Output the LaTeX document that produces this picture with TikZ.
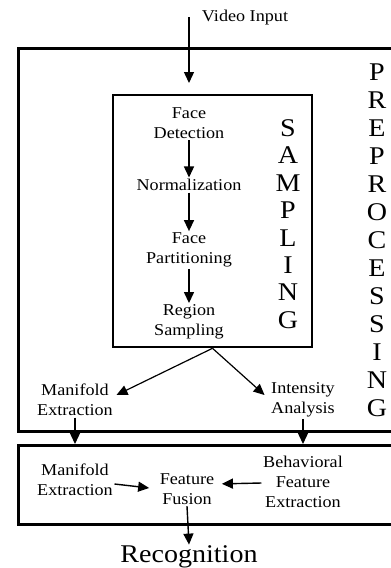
\documentclass[tikz,border=0pt]{standalone}
\usepackage{fontspec}
\setmainfont{Liberation Serif}[FakeStretch=1.1]
\usetikzlibrary{arrows.meta}
\begin{document}
\begin{tikzpicture}[x=1pt,y=-1pt,
  lbl/.style={font=\fontsize{16.5}{20}\selectfont, align=center, inner sep=1.5pt},
  big/.style={font=\fontsize{25.5}{28}\selectfont, align=center, inner sep=0pt},
  arr/.style={line width=1.4pt, -{Triangle[length=11pt,width=10pt]}},
  frame/.style={draw, line width=2.6pt, inner sep=0pt}]
\useasboundingbox (0,0) rectangle (391,568);
\begin{scope}
  \clip (0,0) rectangle (391,568);
  \node[frame, minimum width=400pt, minimum height=383pt, anchor=north west] (prebox) at (17,47) {};
  \node[frame, minimum width=400pt, minimum height=79pt, anchor=north west] (lowbox) at (17,444) {};
\end{scope}
\node[frame, minimum width=199pt, minimum height=252pt] (sampbox) at (212.5,221) {};

% vertical labels
\node[big, font=\fontsize{25.5}{28}\selectfont] (prep) at (377,240)
  {P\\R\\E\\P\\R\\O\\C\\E\\S\\S\\I\\N\\G};
\node[big, font=\fontsize{25.5}{27.4}\selectfont] (samp) at (288,224)
  {S\\A\\M\\P\\L\\I\\N\\G};

% text nodes
\node[lbl] (vi) at (245,18) {Video Input};
\node[lbl] (fd) at (189,123) {Face\\Detection};
\node[lbl] (norm) at (189,185) {Normalization};
\node[lbl] (fp) at (189,250) {Face\\Partitioning};
\node[lbl] (rs) at (189,322) {Region\\Sampling};
\node[lbl] (me1) at (75,400) {Manifold\\Extraction};
\node[lbl] (ia) at (303,400) {Intensity\\Analysis};
\node[lbl] (me2) at (75,480) {Manifold\\Extraction};
\node[lbl] (ff) at (187,489) {Feature\\Fusion};
\node[lbl] (bfe) at (303,482) {Behavioral\\Feature\\Extraction};
\node[big, inner sep=1pt] (rec) at (189,557) {Recognition};

\coordinate (vin) at (189,17);
\coordinate (vend) at (189,83);

% connectors
\draw[arr] (vin) -- (vend);
\draw[arr] (fd.south) -- (norm.north);
\draw[arr] (norm.south) -- (fp.north);
\draw[arr] (fp.south) -- (rs.north);
\draw[arr, line width=1.2pt] (sampbox.south) -- ([yshift=5pt,xshift=2pt]me1.east);
\draw[arr, line width=1.2pt] (sampbox.south) -- ([yshift=5pt,xshift=-5pt]ia.west);
\draw[arr] (me1.south) -- (me1.south |- lowbox.north);
\draw[arr] (ia.south) -- (ia.south |- lowbox.north);
\draw[arr, shorten >=9pt] ([yshift=-4pt]me2.east) -- (ff.west);
\draw[arr, shorten >=6pt] ([yshift=-1pt]bfe.west) -- ([yshift=5pt]ff.east);
\draw[arr] (ff.south) -- (rec.north);
\end{tikzpicture}
\end{document}
